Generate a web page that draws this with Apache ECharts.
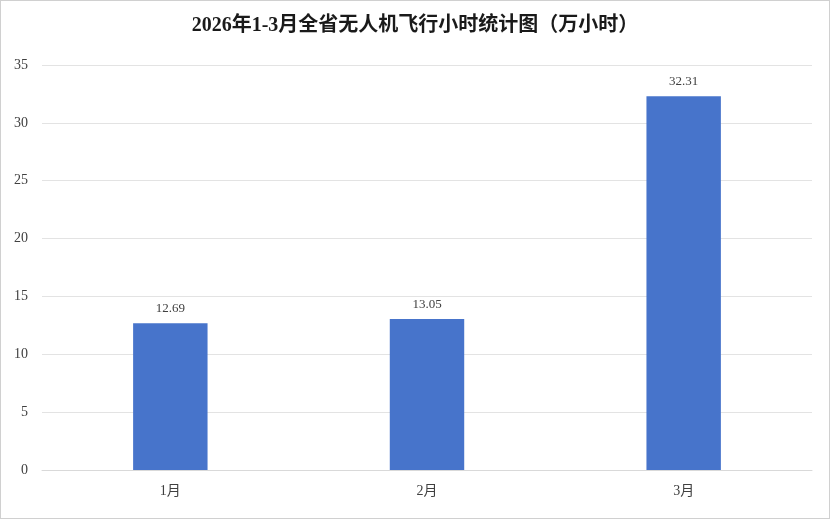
<!DOCTYPE html>
<html><head><meta charset="utf-8">
<script src="https://cdn.jsdelivr.net/npm/echarts@6/dist/echarts.min.js"></script>
<style>html,body{margin:0;padding:0;background:#fff}#c{width:828px;height:517px;border:1px solid #d0d0d0}</style>
</head><body><div id="c"></div>
<script>
const categories = ['1月','2月','3月'];
const values = [12.69, 13.05, 32.31];
const titleText = '2026年1-3月全省无人机飞行小时统计图（万小时）';
const font = '"Liberation Serif","Times New Roman","Noto Sans CJK SC",serif';
const chart = echarts.init(document.getElementById('c'));
chart.setOption({
  animation:false,
  title:{text:titleText,left:'center',top:10,textStyle:{fontFamily:font,fontSize:20,fontWeight:'bold',color:'#1a1a1a'}},
  grid:{left:41,right:17,top:64,bottom:48},
  xAxis:{type:'category',data:categories,axisTick:{show:false},axisLine:{lineStyle:{color:'#d9d9d9'}},
    axisLabel:{fontFamily:font,fontSize:14,color:'#404040',margin:14}},
  yAxis:{type:'value',min:0,max:35,interval:5,axisLine:{show:false},axisTick:{show:false},
    splitLine:{lineStyle:{color:'#e3e3e3'}},axisLabel:{fontFamily:font,fontSize:14,color:'#404040',margin:14}},
  series:[{type:'bar',data:values,barWidth:'29%',itemStyle:{color:'#4774cb'},
    label:{show:true,position:'top',distance:8,fontFamily:font,fontSize:13,color:'#404040',formatter:p=>p.value.toFixed(2)}}]
});
</script></body></html>
